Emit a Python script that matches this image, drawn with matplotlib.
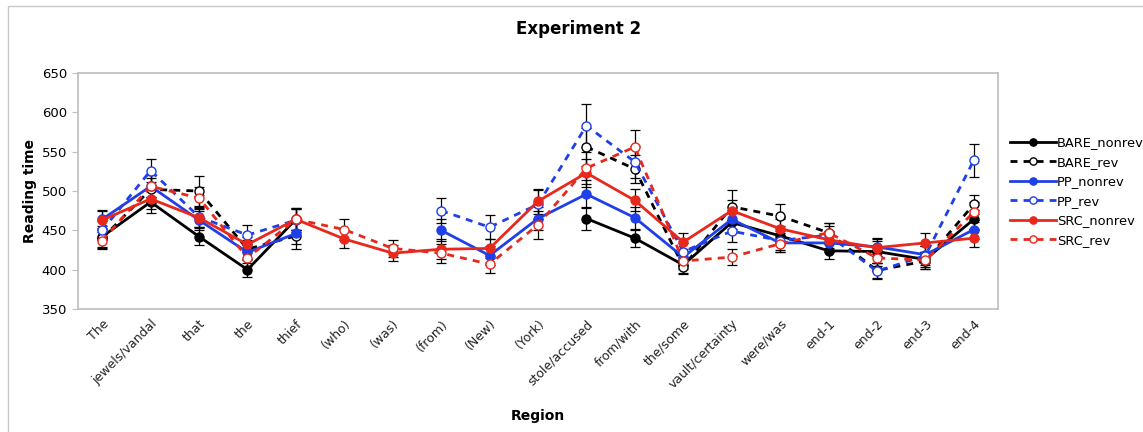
import numpy as np
import matplotlib
matplotlib.use("Agg")
import matplotlib.pyplot as plt
from matplotlib.patches import Rectangle

regions = ["The", "jewels/vandal", "that", "the", "thief", "(who)", "(was)",
           "(from)", "(New)", "(York)", "stole/accused", "from/with", "the/some",
           "vault/certainty", "were/was", "end-1", "end-2", "end-3", "end-4"]
nan = np.nan
bare_nonrev = [442, 486, 442, 400, 464, nan, nan, nan, nan, nan, 465, 440, 406, 460, 443, 424, 423, 413, 464]
bare_rev    = [440, 502, 500, 426, 443, nan, nan, nan, nan, nan, 556, 528, 404, 480, 468, 447, 399, 411, 483]
pp_nonrev   = [464, 506, 463, 422, 446, nan, nan, 450, 418, 465, 496, 466, 416, 464, 434, 434, 429, 419, 451]
pp_rev      = [450, 526, 467, 444, 463, nan, nan, 475, 454, 483, 583, 537, 423, 449, 437, 444, 398, 418, 539]
src_nonrev  = [463, 490, 466, 432, 464, 439, 421, 426, 427, 487, 523, 488, 435, 475, 452, 438, 428, 434, 440]
src_rev     = [437, 506, 491, 415, 464, 451, 427, 421, 407, 457, 529, 556, 411, 416, 433, 447, 415, 412, 473]

bare_nonrev_err = [13, 14, 11, 9, 14, nan, nan, nan, nan, nan, 15, 11, 10, 12, 12, 11, 14, 10, 12]
bare_rev_err    = [13, 14, 19, 12, 17, nan, nan, nan, nan, nan, 24, 18, 10, 21, 15, 12, 10, 10, 12]
pp_nonrev_err   = [12, 14, 12, 10, 14, nan, nan, 14, 12, 15, 18, 14, 10, 12, 12, 11, 11, 11, 12]
pp_rev_err      = [12, 15, 13, 13, 15, nan, nan, 16, 15, 18, 27, 20, 11, 14, 12, 12, 10, 12, 21]
src_nonrev_err  = [12, 13, 12, 10, 13, 11, 10, 13, 12, 16, 18, 14, 11, 13, 12, 11, 11, 12, 11]
src_rev_err     = [11, 14, 14, 10, 13, 13, 11, 12, 11, 18, 20, 21, 10, 10, 11, 12, 10, 11, 13]

series = [
    ("BARE_nonrev", bare_nonrev, bare_nonrev_err, "black", "-", True),
    ("BARE_rev", bare_rev, bare_rev_err, "black", "--", False),
    ("PP_nonrev", pp_nonrev, pp_nonrev_err, "#1f3fe8", "-", True),
    ("PP_rev", pp_rev, pp_rev_err, "#1f3fe8", "--", False),
    ("SRC_nonrev", src_nonrev, src_nonrev_err, "#e8281c", "-", True),
    ("SRC_rev", src_rev, src_rev_err, "#e8281c", "--", False),
]

fig = plt.figure(figsize=(11.43, 4.32), dpi=100)
fig.patches.append(Rectangle((8/1143, -0.01), (1160-8)/1143, 1 - 6/432 + 0.01,
                             transform=fig.transFigure, fill=False,
                             edgecolor="#c8c8c8", linewidth=1.0))
ax = fig.add_axes([78/1143, 1 - 309/432, 920/1143, (309-73)/432])
x = np.arange(len(regions))

# error bars first
for name, vals, errs, col, ls, filled in series:
    ax.errorbar(x, vals, yerr=errs, fmt="none", ecolor="black", elinewidth=0.9,
                capsize=3.5, capthick=0.9, zorder=2)

handles = []
for name, vals, errs, col, ls, filled in series:
    kw = dict(color=col, linewidth=2.0, marker="o", markersize=6.5,
              markeredgecolor=col, markeredgewidth=1.0,
              markerfacecolor=col if filled else "white", label=name, zorder=3)
    if ls == "--":
        kw["dashes"] = (2.5, 2.2)
    h, = ax.plot(x, vals, **kw)
    handles.append(h)

ax.set_xlim(-0.5, len(regions) - 0.5)
ax.set_ylim(350, 650)
ax.set_yticks(np.arange(350, 651, 50))
ax.set_xticks(x)
ax.set_xticklabels(regions, rotation=45, ha="right", rotation_mode="anchor",
                   fontsize=9, color="#222222")
ax.tick_params(axis="x", length=0, pad=6)
ax.tick_params(axis="y", length=4, color="#c0c0c0", labelsize=9.5, pad=4)
for s in ax.spines.values():
    s.set_color("#bdbdbd")
    s.set_linewidth(1.2)

ax.set_ylabel("Reading time", fontsize=10, fontweight="bold", labelpad=3)
fig.text(538/1143, 1 - 416/432, "Region", fontsize=10, fontweight="bold",
         ha="center", va="center")
fig.text(579/1143, 1 - 29/432, "Experiment 2", fontsize=12, fontweight="bold",
         ha="center", va="center")

fig.legend(handles=handles, loc="upper left",
           bbox_to_anchor=(1005/1143, 1 - 131/432), frameon=False,
           fontsize=9.4, handlelength=3.5, handletextpad=0.1,
           labelspacing=0.5, borderaxespad=0, markerscale=0.8)

fig.savefig("out.png", dpi=100)
